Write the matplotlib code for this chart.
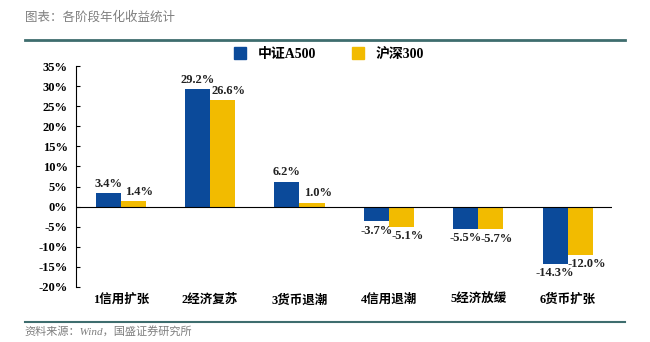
import numpy as np
import matplotlib
matplotlib.use("Agg")
import matplotlib.pyplot as plt
from matplotlib.lines import Line2D

plt.rcParams['font.family'] = ['Liberation Serif', 'Noto Sans CJK SC', 'DejaVu Sans']

# 数据
categories = ["1信用扩张", "2经济复苏", "3货币退潮", "4信用退潮", "5经济放缓", "6货币扩张"]
a500 = [3.4, 29.2, 6.2, -3.7, -5.5, -14.3]
hs300 = [1.4, 26.6, 1.0, -5.1, -5.7, -12.0]
series_names = ["中证A500", "沪深300"]
yticks = [-20, -15, -10, -5, 0, 5, 10, 15, 20, 25, 30, 35]

blue = "#0b4a9a"
yellow = "#f2bb00"
grey = "#7f7f7f"

fig = plt.figure(figsize=(6.5, 3.42), dpi=100)
ax = fig.add_axes([0.117, 0.161, 0.825, 0.646])

x = np.arange(len(categories))
w = 0.28
ax.bar(x - w / 2, a500, w, color=blue, label=series_names[0])
ax.bar(x + w / 2, hs300, w, color=yellow, label=series_names[1])

# 数据标签
for i in range(len(categories)):
    for v, dx in ((a500[i], -w / 2), (hs300[i], w / 2 + 0.07)):
        if v >= 0:
            ax.text(x[i] + dx, v + 0.8, "%.1f%%" % v, ha="center", va="bottom",
                    fontsize=9, fontweight="bold", color="#222222")
        else:
            ax.text(x[i] + dx, v - 0.8, "%.1f%%" % v, ha="center", va="top",
                    fontsize=9, fontweight="bold", color="#222222")

ax.set_xlim(-0.5, len(categories) - 0.5)
ax.set_ylim(-20, 35)
ax.set_yticks(yticks)
ax.set_yticklabels(["%d%%" % t for t in yticks], fontsize=9, fontweight="bold")
ax.tick_params(axis="y", direction="in", length=3, pad=6)
ax.set_xticks(x)
ax.set_xticklabels(categories, fontsize=9, fontweight="bold")
ax.tick_params(axis="x", length=0, pad=5)
for s in ("top", "right", "bottom"):
    ax.spines[s].set_visible(False)
ax.spines["left"].set_linewidth(0.8)
ax.axhline(0, color="black", lw=0.8)

# 图例
handles = [Line2D([], [], marker="s", ls="", color=blue, markersize=8),
           Line2D([], [], marker="s", ls="", color=yellow, markersize=8)]
fig.legend(handles, series_names, loc="center", bbox_to_anchor=(0.5, 0.84),
           ncol=2, frameon=False, prop={"weight": "bold", "size": 10},
           handletextpad=0.3, columnspacing=2.0)

# 标题与来源
fig.text(0.038, 0.95, "图表：各阶段年化收益统计", fontsize=9, color=grey,
         style="italic", va="center")
fig.add_artist(Line2D([0.038, 0.962], [0.883, 0.883], color="#3e6d6e", lw=2))
fig.add_artist(Line2D([0.038, 0.962], [0.058, 0.058], color="#3e6d6e", lw=1.5))
fig.text(0.038, 0.03, "资料来源：Wind，国盛证券研究所", fontsize=8, color=grey,
         style="italic", va="center")

fig.savefig("out.png", dpi=100)
